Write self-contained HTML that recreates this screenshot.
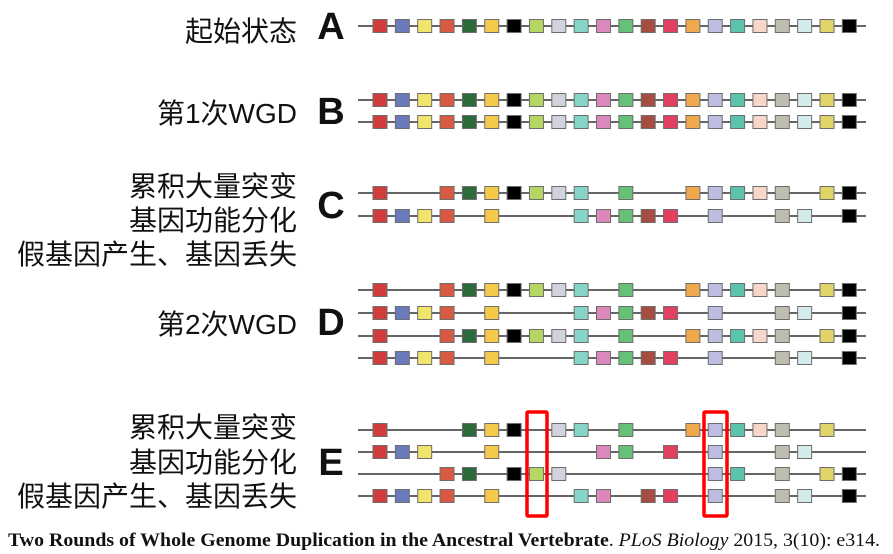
<!DOCTYPE html>
<html><head><meta charset="utf-8"><style>
body{margin:0;background:#fff;}
svg{display:block;}
.lab{font-family:"Liberation Sans","Noto Sans CJK SC",sans-serif;font-size:28px;fill:#111;text-anchor:end;}
.big{font-family:"Liberation Sans",sans-serif;font-size:38px;font-weight:bold;fill:#111;text-anchor:middle;}
.cap{font-family:"Liberation Serif",serif;font-size:19px;fill:#111;}
</style></head><body>
<svg id="svg" width="893" height="554" viewBox="0 0 893 554">
<g>
<text class="lab" x="297" y="41">起始状态</text>
<text class="lab" x="297" y="123">第1次WGD</text>
<text class="lab" x="297" y="196">累积大量突变</text>
<text class="lab" x="297" y="230">基因功能分化</text>
<text class="lab" x="297" y="264">假基因产生、基因丢失</text>
<text class="lab" x="297" y="334">第2次WGD</text>
<text class="lab" x="297" y="437">累积大量突变</text>
<text class="lab" x="297" y="472">基因功能分化</text>
<text class="lab" x="297" y="506">假基因产生、基因丢失</text>
<text class="big" x="331" y="39">A</text>
<text class="big" x="331" y="124">B</text>
<text class="big" x="331" y="218">C</text>
<text class="big" x="331" y="335">D</text>
<text class="big" x="331" y="475">E</text>
</g>
<g id="rows"></g>
<rect x="527" y="412" width="20" height="104" fill="none" stroke="#ff0000" stroke-width="3.5" rx="1"/>
<rect x="704" y="412" width="23" height="104" fill="none" stroke="#ff0000" stroke-width="3.5" rx="1"/>
<text class="cap" x="8" y="546" textLength="872" lengthAdjust="spacingAndGlyphs"><tspan font-weight="bold">Two Rounds of Whole Genome Duplication in the Ancestral Vertebrate</tspan>. <tspan font-style="italic">PLoS Biology</tspan> 2015, 3(10): e314.</text>
</svg>
<script>
const geneColors=["#d13c3c","#6a7abb","#f0e46a","#d85a42","#2e6b3c","#f5c94a","#000000","#b6d664","#d0d3de","#86d4c7","#dd88bb","#66c075","#a54d40","#e14060","#f0a84c","#bcbde0","#5bc4ab","#f9d6ca","#bfbdb0","#d4ebec","#e0d468","#000000"];
const ALL=[0,1,2,3,4,5,6,7,8,9,10,11,12,13,14,15,16,17,18,19,20,21];
const C1=[0,3,4,5,6,7,8,9,11,14,15,16,17,18,20,21];
const C2=[0,1,2,3,5,9,10,11,12,13,15,18,19,21];
const E1=[0,4,5,6,8,9,11,14,15,16,17,18,20];
const E2=[0,1,2,5,10,11,13,15,18,19];
const E3=[3,4,6,7,8,15,16,18,20,21];
const E4=[0,1,2,3,5,9,10,12,13,15,18,19,21];
const rowGenes=[ALL,ALL,ALL,C1,C2,C1,C2,C1,C2,E1,E2,E3,E4];
const rowY=[26,100,122,193,216,290,313,336,358,430,452,474,496];
const NS="http://www.w3.org/2000/svg";
const g=document.getElementById('rows');
function xPos(i){return 373+i*22.35;}
rowGenes.forEach((genes,r)=>{
  const y=rowY[r];
  const row=document.createElementNS(NS,'g');
  
  
  const ln=document.createElementNS(NS,'line');
  ln.setAttribute('x1',358);ln.setAttribute('x2',866);
  ln.setAttribute('y1',y);ln.setAttribute('y2',y);
  ln.setAttribute('stroke','#333');ln.setAttribute('stroke-width','1.5');
  
  
  row.appendChild(ln);
  genes.forEach(i=>{
    const b=document.createElementNS(NS,'rect');
    b.setAttribute('x',xPos(i));b.setAttribute('y',y-6.5);
    b.setAttribute('width',14);b.setAttribute('height',13);
    b.setAttribute('fill',geneColors[i]);
    b.setAttribute('stroke','#6e6e6e');b.setAttribute('stroke-width','1');
    
    
    row.appendChild(b);
  });
  g.appendChild(row);
});
</script>
</body></html>
